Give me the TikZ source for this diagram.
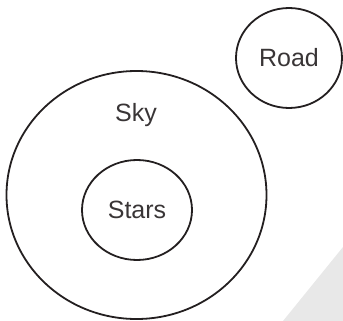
\documentclass[tikz,border=0pt]{standalone}
\usepackage{fontspec}
\setmainfont{Liberation Sans}
\definecolor{cornergray}{RGB}{232, 232, 232}
\definecolor{ink}{RGB}{35, 31, 32}
\usetikzlibrary{shapes.geometric}

\tikzset{
    setbox/.style={draw=ink, line width=1.8pt, ellipse, inner sep=0pt},
    setname/.style={font=\fontsize{25}{28}\selectfont, text=ink!90}
}

\begin{document}
\begin{tikzpicture}[x=1pt, y=-1pt]
                \useasboundingbox (0,0) rectangle (343,321);

                % grey corner
                \fill[cornergray] (283,321) -- (343,247) -- (343,321) -- cycle;

                % Sky with Stars inside
                \node[setbox, minimum width=260pt, minimum height=248pt] (sky) at (136.5,195) {};
                \node[setname] (skylabel) at (136,115) {Sky};
                \node[setbox, setname, minimum width=110pt, minimum height=100pt] (stars) at (137,210) {Stars};

                % Road on its own
                \node[setbox, setname, minimum width=106pt, minimum height=100pt] (road) at (289,58) {Road};
            \end{tikzpicture}
\end{document}
